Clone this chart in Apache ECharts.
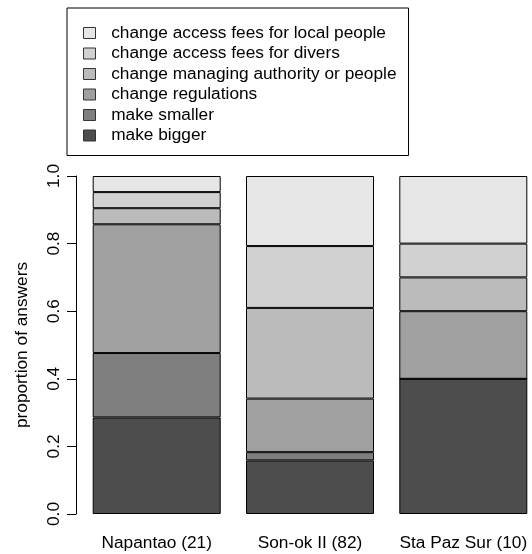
<!DOCTYPE html>
<html>
<head>
<meta charset="utf-8">
<script src="https://cdn.jsdelivr.net/npm/echarts@6/dist/echarts.min.js"></script>
<style>
  html, body { margin: 0; padding: 0; background: #fff; }
  #chart { width: 532px; height: 554px; }
</style>
</head>
<body>
<div id="chart"></div>
<script>
// sites with number of answers
const sites = ['Napantao (21)', 'Son-ok II (82)', 'Sta Paz Sur (10)']
const totals = [21, 82, 10]

// counts per answer, bottom of the stack first
const makeBigger = [6, 13, 4]
const makeSmaller = [4, 2, 0]
const changeRegulations = [8, 13, 2]
const changeManaging = [1, 22, 1]
const feesDivers = [1, 15, 1]
const feesLocal = [1, 17, 2]

const yTicks = [0, 0.2, 0.4, 0.6, 0.8, 1.0]

const answers = [
  { name: 'make bigger', counts: makeBigger, color: '#4d4d4d' },
  { name: 'make smaller', counts: makeSmaller, color: '#7f7f7f' },
  { name: 'change regulations', counts: changeRegulations, color: '#a0a0a0' },
  { name: 'change managing authority or people', counts: changeManaging, color: '#bbbbbb' },
  { name: 'change access fees for divers', counts: feesDivers, color: '#d1d1d1' },
  { name: 'change access fees for local people', counts: feesLocal, color: '#e6e6e6' }
]

const font = 'Liberation Sans, Arial, sans-serif'
const fontSize = 17.3

const chart = echarts.init(document.getElementById('chart'), null, { renderer: 'canvas' })

// bar centres sit on the category points (boundaryGap off), axis pushed out to the left
const gridLeft = 156.7
const option = {
  backgroundColor: '#fff',
  animation: false,
  textStyle: { fontFamily: font, color: '#000' },
  legend: {
    orient: 'vertical',
    left: 67,
    top: 8,
    padding: [16.5, 12, 11.5, 16],
    borderColor: '#000',
    borderWidth: 1,
    itemWidth: 12,
    itemHeight: 11,
    itemGap: 3.5,
    icon: 'rect',
    itemStyle: { borderColor: '#333', borderWidth: 1 },
    data: answers.map(a => a.name).reverse(),
    textStyle: { fontFamily: font, fontSize: fontSize, color: '#000', padding: [0, 0, 0, 10.7] }
  },
  grid: {
    left: gridLeft,
    top: 176,
    width: 306.6,
    height: 338
  },
  xAxis: {
    type: 'category',
    data: sites,
    boundaryGap: false,
    axisLine: { show: false },
    axisTick: { show: false },
    axisLabel: { interval: 0, hideOverlap: false, fontFamily: font, fontSize: fontSize, color: '#000', margin: 21 }
  },
  yAxis: {
    type: 'value',
    min: yTicks[0],
    max: yTicks[yTicks.length - 1],
    interval: 0.2,
    offset: gridLeft - 76,
    name: 'proportion of answers',
    nameLocation: 'middle',
    nameGap: 45,
    nameTextStyle: { fontFamily: font, fontSize: fontSize, color: '#000' },
    axisLine: { show: true, lineStyle: { color: '#000', width: 1 } },
    axisTick: { show: true, length: 9, lineStyle: { color: '#000', width: 1 } },
    splitLine: { show: false },
    axisLabel: {
      rotate: 90,
      margin: 13,
      fontFamily: font,
      fontSize: fontSize,
      color: '#000',
      formatter: v => v.toFixed(1)
    }
  },
  series: answers.map(a => ({
    name: a.name,
    type: 'bar',
    stack: 'all',
    barWidth: 128,
    clip: false,
    itemStyle: { color: a.color, borderColor: '#000', borderWidth: 1 },
    data: a.counts.map((c, i) => c / totals[i])
  }))
}

chart.setOption(option)
</script>
</body>
</html>
